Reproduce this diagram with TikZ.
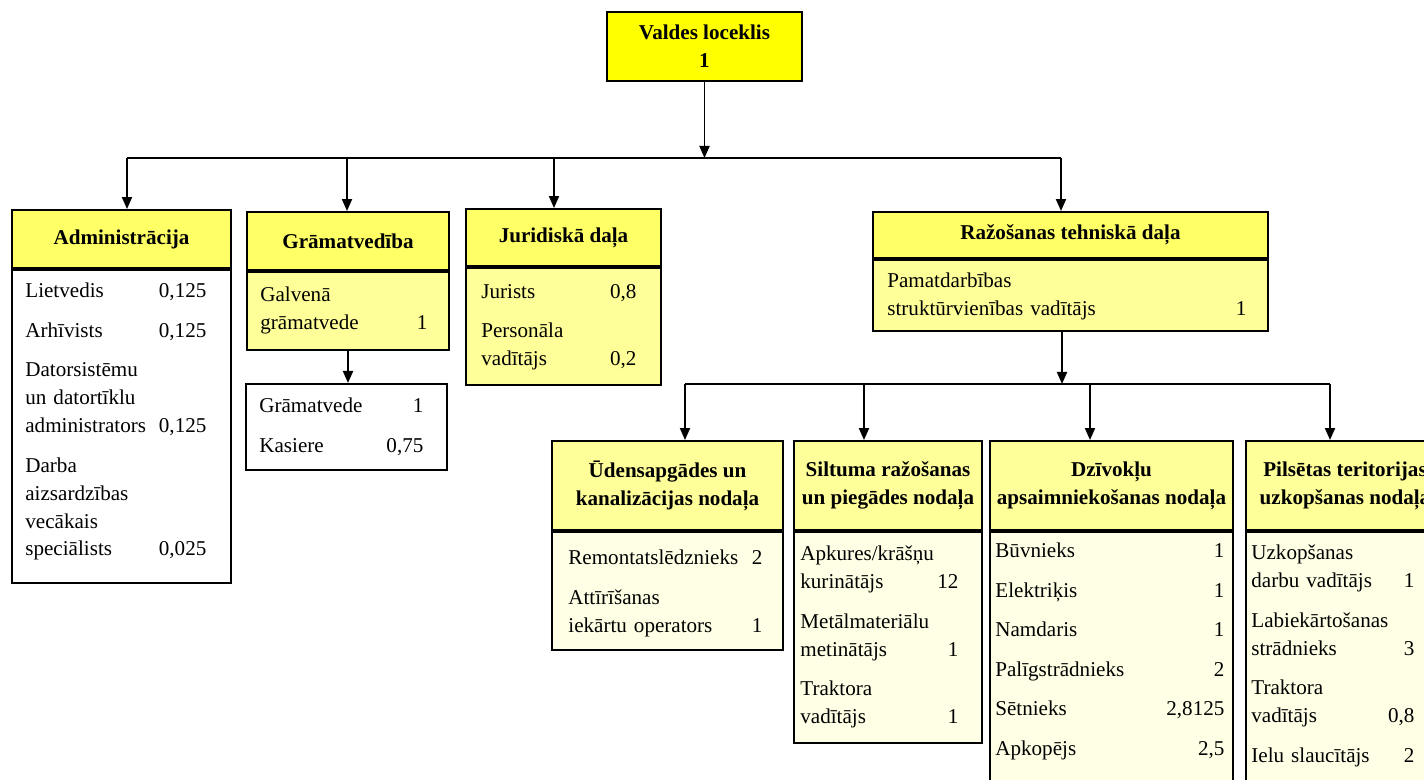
\documentclass[tikz,border=0pt]{standalone}
\usepackage{fontspec}
\setmainfont{Liberation Serif}
\usetikzlibrary{positioning,arrows.meta}

\definecolor{valdes}{HTML}{FFFF00}
\definecolor{hdrA}{HTML}{FFFF66}
\definecolor{bodyA}{HTML}{FFFF99}
\definecolor{bodyB}{HTML}{FFFFE6}

\begin{document}
\begin{tikzpicture}[
    font=\fontsize{12}{15.9}\selectfont,
    box/.style={rectangle, draw, line width=1.1pt, inner sep=1pt, align=center},
    hdr/.style={box, font=\fontsize{12}{15.9}\selectfont\bfseries},
    body/.style={box, anchor=north},
    txt/.style={inner sep=0pt, align=left},
    arrow/.style={-{Triangle[length=0.24cm, width=0.2cm]}, line width=1.1pt},
    bus/.style={line width=1pt}
]
\useasboundingbox (0,0) rectangle (28.48,-15.6);
\clip (0,0) rectangle (28.48,-15.6);

% Board
\node[hdr, fill=valdes, minimum width=3.9cm, minimum height=1.38cm] (valde) at (14.09,-0.93) {Valdes loceklis\\1};

% First level
\node[hdr, fill=hdrA, minimum width=4.38cm, minimum height=1.16cm] (adm) at (2.43,-4.78) {Administrācija};
\node[body, fill=white, minimum width=4.38cm, minimum height=6.26cm] (admb) at (adm.south) {};
\node[txt, text width=3.62cm, below right=0.28cm and 0.28cm of admb.north west] (admt) {Lietvedis\hfill 0,125\\[0.23cm]Arhīvists\hfill 0,125\\[0.23cm]Datorsistēmu\\un datortīklu\\administrators\hfill 0,125\\[0.23cm]Darba\\aizsardzības\\vecākais\\speciālists\hfill 0,025};

\node[hdr, fill=hdrA, minimum width=4.04cm, minimum height=1.16cm] (gram) at (6.96,-4.82) {Grāmatvedība};
\node[body, fill=bodyA, minimum width=4.04cm, minimum height=1.56cm] (gramb) at (gram.south) {};
\node[txt, text width=3.34cm, below right=0.32cm and 0.28cm of gramb.north west] (gramt) {Galvenā\\grāmatvede\hfill 1};
\node[box, fill=white, minimum width=4.02cm, minimum height=1.72cm, anchor=north] (kase) at (6.93,-7.66) {};
\node[txt, text width=3.28cm, below right=0.30cm and 0.28cm of kase.north west] (kaset) {Grāmatvede\hfill 1\\[0.23cm]Kasiere\hfill 0,75};

\node[hdr, fill=hdrA, minimum width=3.9cm, minimum height=1.14cm] (jur) at (11.27,-4.75) {Juridiskā daļa};
\node[body, fill=bodyA, minimum width=3.9cm, minimum height=2.34cm] (jurb) at (jur.south) {};
\node[txt, text width=3.1cm, below right=0.34cm and 0.32cm of jurb.north west] (jurt) {Jurists\hfill 0,8\\[0.23cm]Personāla\\vadītājs\hfill 0,2};

\node[hdr, fill=hdrA, minimum width=7.9cm, minimum height=0.92cm] (raz) at (21.41,-4.7) {Ražošanas tehniskā daļa};
\node[body, fill=bodyA, minimum width=7.9cm, minimum height=1.42cm] (razb) at (raz.south) {};
\node[txt, text width=7.18cm, below right=0.28cm and 0.30cm of razb.north west] (razt) {Pamatdarbības\\struktūrvienības vadītājs\hfill 1};

% Second level
\node[hdr, fill=bodyA, minimum width=4.62cm, minimum height=1.78cm] (ud) at (13.35,-9.71) {Ūdensapgādes un\\kanalizācijas nodaļa};
\node[body, fill=bodyB, minimum width=4.62cm, minimum height=2.36cm] (udb) at (ud.south) {};
\node[txt, text width=3.88cm, below right=0.38cm and 0.34cm of udb.north west] (udt) {Remontatslēdznieks\hfill 2\\[0.23cm]Attīrīšanas\\iekārtu operators\hfill 1};

\node[hdr, fill=bodyA, minimum width=3.76cm, minimum height=1.78cm] (silt) at (17.76,-9.71) {Siltuma ražošanas\\un piegādes nodaļa};
\node[body, fill=bodyB, minimum width=3.76cm, minimum height=4.22cm] (siltb) at (silt.south) {};
\node[txt, text width=3.16cm, below right=0.30cm and 0.14cm of siltb.north west] (siltt) {Apkures/krāšņu\\kurinātājs\hfill 12\\[0.23cm]Metālmateriālu\\metinātājs\hfill 1\\[0.23cm]Traktora\\vadītājs\hfill 1};

\node[hdr, fill=bodyA, minimum width=4.86cm, minimum height=1.78cm] (dz) at (22.23,-9.71) {Dzīvokļu\\apsaimniekošanas nodaļa};
\node[body, fill=bodyB, minimum width=4.86cm, minimum height=5.6cm] (dzb) at (dz.south) {};
\node[txt, text width=4.58cm, below right=0.24cm and 0.12cm of dzb.north west] (dzt) {Būvnieks\hfill 1\\[0.23cm]Elektriķis\hfill 1\\[0.23cm]Namdaris\hfill 1\\[0.23cm]Palīgstrādnieks\hfill 2\\[0.23cm]Sētnieks\hfill 2,8125\\[0.23cm]Apkopējs\hfill 2,5};

\node[hdr, fill=bodyA, minimum width=3.96cm, minimum height=1.78cm] (pil) at (26.9,-9.71) {Pilsētas teritorijas\\uzkopšanas nodaļa};
\node[body, fill=bodyB, minimum width=3.96cm, minimum height=5.6cm] (pilb) at (pil.south) {};
\node[txt, text width=3.26cm, below right=0.28cm and 0.12cm of pilb.north west] (pilt) {Uzkopšanas\\darbu vadītājs\hfill 1\\[0.23cm]Labiekārtošanas\\strādnieks\hfill 3\\[0.23cm]Traktora\\vadītājs\hfill 0,8\\[0.23cm]Ielu slaucītājs\hfill 2};

% Arrows
\coordinate (busA) at (2.54,-3.16);
\coordinate (busB) at (6.94,-3.16);
\coordinate (busC) at (11.08,-3.16);
\coordinate (busD) at (21.22,-3.16);
\draw[bus] (busA) -- (busD);
\draw[arrow] (valde.south) -- (valde.south |- busA);
\draw[arrow] (busA) -- (busA |- adm.north);
\draw[arrow] (busB) -- (busB |- gram.north);
\draw[arrow] (busC) -- (busC |- jur.north);
\draw[arrow] (busD) -- (busD |- raz.north);
\draw[arrow] (gramb.south) -- (gramb.south |- kase.north);

\coordinate (busE) at (13.7,-7.68);
\coordinate (busF) at (17.28,-7.68);
\coordinate (busG) at (21.8,-7.68);
\coordinate (busH) at (26.6,-7.68);
\coordinate (razdrop) at (21.24,-7.68);
\draw[bus] (busE) -- (busH);
\draw[arrow] (razb.south -| razdrop) -- (razdrop);
\draw[arrow] (busE) -- (busE |- ud.north);
\draw[arrow] (busF) -- (busF |- silt.north);
\draw[arrow] (busG) -- (busG |- dz.north);
\draw[arrow] (busH) -- (busH |- pil.north);

\end{tikzpicture}
\end{document}
